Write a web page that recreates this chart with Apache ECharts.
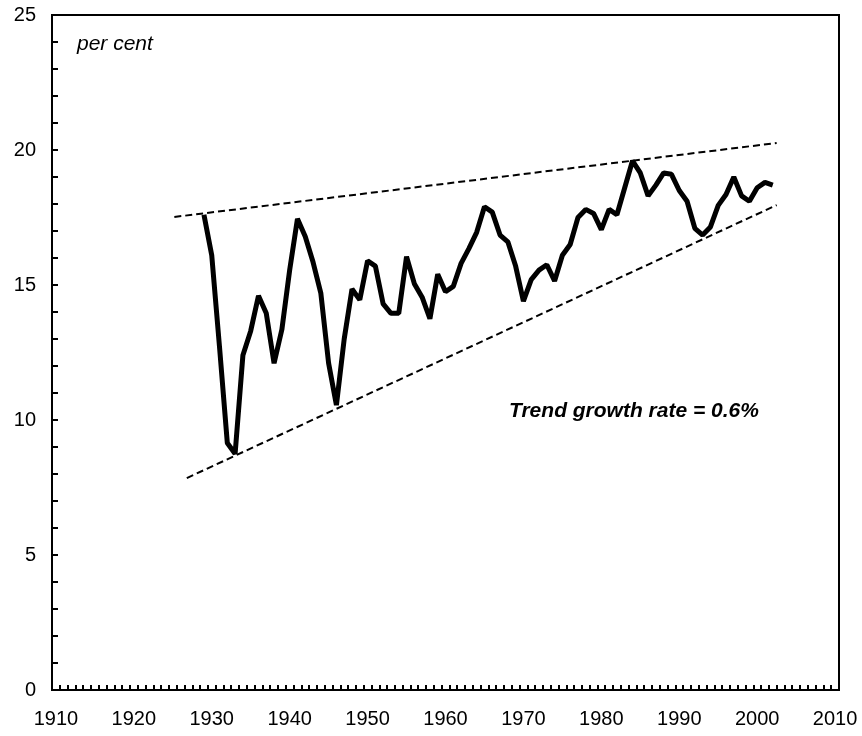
<!DOCTYPE html>
<html>
<head>
<meta charset="utf-8">
<script src="https://cdn.jsdelivr.net/npm/echarts@6/dist/echarts.min.js"></script>
<style>
  html, body { margin: 0; padding: 0; background: #fff; }
  #chart { width: 862px; height: 736px; }
</style>
</head>
<body>
<div id="chart"></div>
<script>
// axis categories 1910..2010 (labels every 10 years)
const axisYears = []
for (let y = 1910; y <= 2010; y++) axisYears.push(String(y))

// series years and values (per cent)
const years = [
  1929, 1930, 1931, 1932, 1933, 1934, 1935, 1936, 1937, 1938,
  1939, 1940, 1941, 1942, 1943, 1944, 1945, 1946, 1947, 1948,
  1949, 1950, 1951, 1952, 1953, 1954, 1955, 1956, 1957, 1958,
  1959, 1960, 1961, 1962, 1963, 1964, 1965, 1966, 1967, 1968,
  1969, 1970, 1971, 1972, 1973, 1974, 1975, 1976, 1977, 1978,
  1979, 1980, 1981, 1982, 1983, 1984, 1985, 1986, 1987, 1988,
  1989, 1990, 1991, 1992, 1993, 1994, 1995, 1996, 1997, 1998,
  1999, 2000, 2001, 2002
]
const values = [
  17.6, 16.1, 12.7, 9.15, 8.75, 12.4, 13.3, 14.6, 13.95, 12.1,
  13.35, 15.55, 17.45, 16.8, 15.85, 14.7, 12.1, 10.55, 13.0, 14.85,
  14.45, 15.9, 15.7, 14.3, 13.95, 13.95, 16.05, 15.05, 14.55, 13.75,
  15.4, 14.75, 14.95, 15.8, 16.35, 16.95, 17.9, 17.7, 16.85, 16.6,
  15.7, 14.4, 15.2, 15.55, 15.75, 15.15, 16.1, 16.5, 17.5, 17.8,
  17.65, 17.05, 17.8, 17.6, 18.6, 19.6, 19.15, 18.3, 18.7, 19.15,
  19.1, 18.5, 18.1, 17.1, 16.85, 17.15, 17.95, 18.35, 19.0, 18.3,
  18.1, 18.6, 18.8, 18.7
]

// dashed trend envelope: [year, value] end points
const upperTrend = [[1925.2, 17.52], [2002.5, 20.26]]
const lowerTrend = [[1926.8, 7.85], [2002.5, 17.96]]

const yTicks = [0, 5, 10, 15, 20, 25]

const font = '"Liberation Sans", Arial, sans-serif'
const chart = echarts.init(document.getElementById('chart'))

const option = {
  animation: false,
  backgroundColor: '#fff',
  grid: {
    left: 52, right: 23, top: 15, bottom: 46,
    show: true, borderColor: '#000', borderWidth: 2
  },
  xAxis: [{
    type: 'category',
    data: axisYears,
    boundaryGap: true,
    position: 'bottom',
    axisLine: { show: true, onZero: false, lineStyle: { color: '#000', width: 2 } },
    axisTick: {
      show: true, inside: true, length: 5, interval: 0, alignWithLabel: false,
      lineStyle: { color: '#000', width: 2 }
    },
    axisLabel: { show: true, interval: 9, margin: 19, color: '#000', fontSize: 20, fontFamily: font },
    splitLine: { show: false }
  }, {
    type: 'value',
    show: false,
    position: 'top',
    min: 1909.5,
    max: 2010.5,
    axisTick: { show: false },
    axisLine: { show: false },
    splitLine: { show: false }
  }],
  yAxis: {
    type: 'value',
    min: 0,
    max: 25,
    interval: 1,
    axisLine: { show: true, lineStyle: { color: '#000', width: 2 } },
    axisTick: { show: true, inside: true, length: 6, lineStyle: { color: '#000', width: 2 } },
    axisLabel: {
      margin: 16, color: '#000', fontSize: 20, fontFamily: font,
      formatter: v => yTicks.includes(v) ? String(v) : ''
    },
    splitLine: { show: false }
  },
  graphic: [{
    type: 'text', left: 77, top: 34,
    style: { text: 'per cent', font: 'italic 21px ' + font, fill: '#000' }
  }, {
    type: 'text', left: 509, top: 401,
    style: { text: 'Trend growth rate = 0.6%', font: 'italic bold 21px ' + font, fill: '#000' }
  }],
  series: [{
    type: 'line',
    xAxisIndex: 1,
    data: years.map((y, i) => [y, values[i]]),
    symbol: 'none',
    lineStyle: { color: '#000', width: 5 },
    z: 3
  }, {
    type: 'line',
    xAxisIndex: 1,
    data: upperTrend,
    symbol: 'none',
    lineStyle: { color: '#000', width: 2, type: [7, 4] }
  }, {
    type: 'line',
    xAxisIndex: 1,
    data: lowerTrend,
    symbol: 'none',
    lineStyle: { color: '#000', width: 2, type: [7, 4] }
  }]
}

chart.setOption(option)
</script>
</body>
</html>
